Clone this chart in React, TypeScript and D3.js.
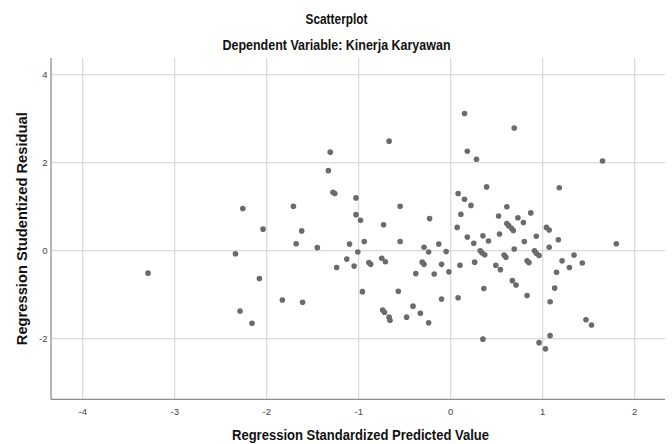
import React from "react";
import * as d3 from "d3";

const predicted: number[] = [
  -3.29, -2.26, -2.04, -1.71, -1.62, -1.68, -1.45, -2.34, -2.08, -1.83,
  -1.61, -2.29, -2.16, -1.31, -1.33, -1.28, -1.26, -1.03, -1.03, -0.98,
  -0.67, -0.73, -0.55, -0.23, -1.1, -0.94, -1.01, -1.13, -1.24, -1.05,
  -0.89, -0.87, -0.75, -0.71, -0.55, -0.29, -0.24, -0.31, -0.29, -0.38,
  -0.96, -0.57, -0.74, -0.72, -0.67, -0.66, -0.41, -0.33, -0.48, -0.24,
  0.15, 0.69, 0.18, 0.28, 1.65, 0.39, 1.18, 0.08, 0.15, 0.22,
  0.11, 0.61, 0.52, 0.73, 0.87, 0.79, 0.61, 0.63, 0.66, 0.68,
  1.04, 1.07, 0.07, 0.18, 0.35, 0.53, 0.93, 1.17, 0.25, 0.41,
  0.8, 1.8, -0.13, -0.05, 0.32, 0.34, 0.37, 0.69, 0.91, 0.93,
  0.96, 1.07, 1.34, 1.21, 1.43, 1.29, 1.15, 1.13, 0.58, 0.6,
  0.26, 0.1, -0.1, -0.18, -0.02, 0.49, 0.54, 0.83, 0.85, 0.67,
  0.71, 0.36, 0.83, 1.08, -0.1, 0.08, 1.47, 1.53, 0.35, 1.08,
  0.96, 1.03,
];

const residual: number[] = [
  -0.51, 0.96, 0.49, 1.01, 0.45, 0.16, 0.07, -0.07, -0.63, -1.12,
  -1.17, -1.37, -1.65, 2.24, 1.82, 1.33, 1.3, 1.2, 0.82, 0.69,
  2.49, 0.59, 1.01, 0.73, 0.15, 0.21, -0.03, -0.19, -0.38, -0.35,
  -0.27, -0.31, -0.17, -0.25, 0.21, 0.08, -0.03, -0.26, -0.31, -0.52,
  -0.93, -0.92, -1.35, -1.4, -1.51, -1.58, -1.26, -1.42, -1.51, -1.64,
  3.12, 2.79, 2.26, 2.08, 2.04, 1.45, 1.43, 1.3, 1.17, 1.03,
  0.83, 1.0, 0.79, 0.75, 0.86, 0.64, 0.62, 0.57, 0.51, 0.46,
  0.53, 0.47, 0.53, 0.31, 0.34, 0.38, 0.33, 0.25, 0.17, 0.22,
  0.21, 0.16, 0.15, -0.02, 0.0, -0.05, -0.09, 0.04, 0.0, -0.06,
  -0.11, 0.08, -0.1, -0.23, -0.28, -0.38, -0.49, -0.85, -0.1, -0.15,
  -0.26, -0.33, -0.31, -0.53, -0.48, -0.33, -0.43, -0.23, -0.27, -0.68,
  -0.78, -0.86, -1.02, -1.16, -1.1, -1.07, -1.57, -1.69, -2.01, -1.93,
  -2.09, -2.23,
];

const xTicks: number[] = [-4, -3, -2, -1, 0, 1, 2];
const yTicks: number[] = [-2, 0, 2, 4];

const titleText = "Scatterplot";
const subtitleText = "Dependent Variable: Kinerja Karyawan";
const xTitle = "Regression Standardized Predicted Value";
const yTitle = "Regression Studentized Residual";

const W = 672;
const H = 444;
const left = 51;
const right = 665;
const top = 58;
const bottom = 399.3;

const FONT = "'Liberation Sans', Arial, Helvetica, sans-serif";

export default function App() {
  const x = d3.scaleLinear().domain([-4.345, 2.329]).range([left, right]);
  const y = d3.scaleLinear().domain([-3.377, 4.38]).range([bottom, top]);

  return (
    <svg
      width={W}
      height={H}
      style={{ position: "absolute", left: 0, top: 0, background: "#fff" }}
      fontFamily={FONT}
    >
      <rect x={0} y={0} width={W} height={H} fill="#ffffff" />
      {/* grid */}
      {xTicks.map((t) => (
        <line
          key={"gx" + t}
          x1={x(t)}
          x2={x(t)}
          y1={top}
          y2={bottom}
          stroke="#d0d0d0"
          strokeWidth={1}
        />
      ))}
      {yTicks.map((t) => (
        <line
          key={"gy" + t}
          x1={left}
          x2={right}
          y1={y(t)}
          y2={y(t)}
          stroke="#d0d0d0"
          strokeWidth={1}
        />
      ))}
      {/* axes */}
      <line x1={left} x2={left} y1={top} y2={bottom} stroke="#6e6e6e" strokeWidth={1} />
      <line x1={left} x2={right} y1={bottom} y2={bottom} stroke="#6e6e6e" strokeWidth={1} />
      {/* tick labels */}
      {xTicks.map((t) => (
        <text
          key={"tx" + t}
          x={x(t)}
          y={414.5}
          textAnchor="middle"
          fontSize={9.5}
          fill="#444"
        >
          {t}
        </text>
      ))}
      {yTicks.map((t) => (
        <text
          key={"ty" + t}
          x={47.5}
          y={y(t) + 3.3}
          textAnchor="end"
          fontSize={9.5}
          fill="#444"
        >
          {t}
        </text>
      ))}
      {/* points */}
      {predicted.map((v, i) => (
        <circle key={"p" + i} cx={x(v)} cy={y(residual[i])} r={2.8} fill="#6b6b6b" />
      ))}
      {/* titles */}
      <text
        x={336.5}
        y={24}
        textAnchor="middle"
        fontSize={14}
        fontWeight="bold"
        fill="#111"
        textLength={62}
        lengthAdjust="spacingAndGlyphs"
      >
        {titleText}
      </text>
      <text
        x={336.5}
        y={50}
        textAnchor="middle"
        fontSize={14}
        fontWeight="bold"
        fill="#111"
        textLength={228}
        lengthAdjust="spacingAndGlyphs"
      >
        {subtitleText}
      </text>
      <text
        x={360.5}
        y={439.5}
        textAnchor="middle"
        fontSize={14}
        fontWeight="bold"
        fill="#111"
        textLength={257}
        lengthAdjust="spacingAndGlyphs"
      >
        {xTitle}
      </text>
      <text
        transform={`translate(27,228.7) rotate(-90)`}
        textAnchor="middle"
        fontSize={14.5}
        fontWeight="bold"
        fill="#111"
        textLength={233}
        lengthAdjust="spacingAndGlyphs"
      >
        {yTitle}
      </text>
    </svg>
  );
}
